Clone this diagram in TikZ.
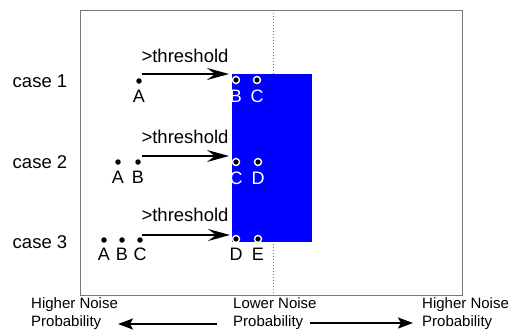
\documentclass[tikz,border=0pt]{standalone}
\usepackage{fontspec}
\setmainfont{Liberation Sans}
\usetikzlibrary{positioning,arrows.meta}
\definecolor{PureBlue}{RGB}{0,0,255}
\definecolor{FrameGray}{RGB}{120,120,120}

\begin{document}
\begin{tikzpicture}[x=1pt, y=-1pt,
    caselabel/.style={font=\fontsize{18.5}{20}\selectfont, anchor=center, inner sep=0pt},
    thr/.style={font=\fontsize{18.5}{20}\selectfont, inner sep=0pt},
    ptlabel/.style={font=\fontsize{18}{20}\selectfont, inner sep=0pt},
    noiselabel/.style={font=\fontsize{15}{18}\selectfont, align=left, anchor=west, inner sep=0pt},
    arr/.style={-{Stealth[length=22pt, width=12pt, inset=8pt]}, line width=2.4pt},
    farr/.style={-{Stealth[length=15pt, width=11pt, inset=3pt]}, line width=2pt},
    dot/.style={circle, fill=black, inner sep=0pt, minimum size=5.5pt},
    hole/.style={circle, draw=white, line width=1.4pt, fill=black, inner sep=0pt, minimum size=7pt},
]
\useasboundingbox (0,0) rectangle (509,333);

% frame and centre line
\draw[FrameGray, line width=1pt] (80,10) rectangle (462,295);
\draw[FrameGray, dotted, line width=1pt] (273,10) -- (273,295);
\fill[PureBlue] (232,74) rectangle (312,242);

% case labels
\node[caselabel] (c1) at (40,81) {case 1};
\node[caselabel] (c2) at (40,162) {case 2};
\node[caselabel] (c3) at (40,242) {case 3};

% case 1
\node[dot] (a1) at (139,81) {};
\node[hole] (b1) at (236,80) {};
\node[hole] (cc1) at (257,80) {};
\node[ptlabel, below=6pt of a1] {A};
\node[ptlabel, text=white, below=6pt of b1] {B};
\node[ptlabel, text=white, below=6pt of cc1] {C};
\coordinate (s1) at (142,74);
\coordinate (e1) at (229,74);
\draw[arr] (s1) -- (e1);
\node[thr] (t1) at (185,56) {>threshold};

% case 2
\node[dot] (a2) at (118,162) {};
\node[dot] (b2) at (138,162) {};
\node[hole] (cc2) at (236,162) {};
\node[hole] (d2) at (258,162) {};
\node[ptlabel, below=6pt of a2] {A};
\node[ptlabel, below=6pt of b2] {B};
\node[ptlabel, text=white, below=6pt of cc2] {C};
\node[ptlabel, text=white, below=6pt of d2] {D};
\coordinate (s2) at (142,156);
\coordinate (e2) at (229,156);
\draw[arr] (s2) -- (e2);
\node[thr] (t2) at (185,137) {>threshold};

% case 3
\node[dot] (a3) at (104,240) {};
\node[dot] (b3) at (122,240) {};
\node[dot] (cc3) at (140,240) {};
\node[hole] (d3) at (236,239) {};
\node[hole] (e3) at (258,239) {};
\node[ptlabel, below=5pt of a3] {A};
\node[ptlabel, below=5pt of b3] {B};
\node[ptlabel, below=5pt of cc3] {C};
\node[ptlabel, below=5pt of d3] {D};
\node[ptlabel, below=5pt of e3] {E};
\coordinate (s3) at (142,235);
\coordinate (e3a) at (230,235);
\draw[arr] (s3) -- (e3a);
\node[thr] (t3) at (185,215) {>threshold};

% noise axis
\node[noiselabel] (hl) at (31,314) {Higher Noise\\Probability};
\node[noiselabel] (lo) at (233,314) {Lower Noise\\Probability};
\node[noiselabel] (hr) at (422,314) {Higher Noise\\Probability};
\coordinate (ls) at (217,324);
\coordinate (le) at (118,324);
\coordinate (rs) at (310,323);
\coordinate (re) at (413,323);
\draw[farr] (ls) -- (le);
\draw[farr] (rs) -- (re);
\end{tikzpicture}
\end{document}
